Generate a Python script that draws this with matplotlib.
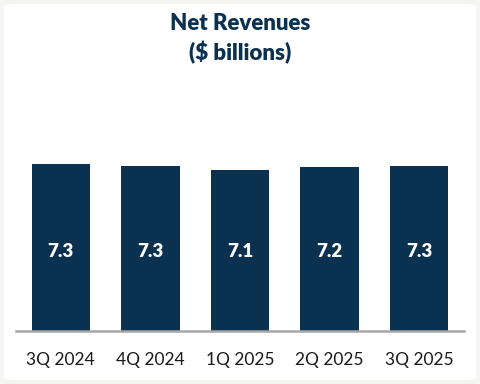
import matplotlib
matplotlib.use("Agg")
import matplotlib.pyplot as plt
from matplotlib.patches import FancyBboxPatch

quarters = ["3Q 2024", "4Q 2024", "1Q 2025", "2Q 2025", "3Q 2025"]
revenues = [7.35, 7.26, 7.08, 7.24, 7.26]
labels = ["7.3", "7.3", "7.1", "7.2", "7.3"]

navy = "#0b3150"

plt.rcParams["font.family"] = ["Lato", "DejaVu Sans"]

fig = plt.figure(figsize=(4.8, 3.84), dpi=100)
fig.patch.set_facecolor("#f4f4f2")

# white card with soft border
card = FancyBboxPatch((4 / 480, 4 / 384), 472 / 480, 376 / 384,
                      boxstyle="round,pad=0,rounding_size=0.01",
                      transform=fig.transFigure, facecolor="white",
                      edgecolor="none", zorder=-10)
fig.add_artist(card)

ax = fig.add_axes([16 / 480, 53 / 384, 448 / 480, 231 / 384])
ax.set_facecolor("none")

x = range(len(quarters))
bars = ax.bar(x, revenues, width=0.65, color=navy, zorder=2)
for i, b in enumerate(bars):
    ax.text(b.get_x() + b.get_width() / 2, 3.5, labels[i], color="white",
            ha="center", va="center", fontsize=13.5, fontweight="heavy", zorder=3)

ax.set_xlim(-0.5, len(quarters) - 0.5)
ax.set_ylim(0, 10.17)
ax.set_xticks(list(x))
ax.set_xticklabels(quarters, fontsize=12.5, color="#1a1a1a")
ax.tick_params(axis="x", length=0, pad=15)
ax.set_yticks([])
for s in ["top", "right", "left"]:
    ax.spines[s].set_visible(False)
ax.spines["bottom"].set_color("#a6a6a6")
ax.spines["bottom"].set_linewidth(1.8)

fig.text(0.5, 1 - 24 / 384, "Net Revenues", ha="center", va="center",
         fontsize=16, fontweight="heavy", color=navy)
fig.text(0.5, 1 - 53 / 384, "($ billions)", ha="center", va="center",
         fontsize=16, fontweight="heavy", color=navy)

fig.savefig("out.png", dpi=100, facecolor=fig.get_facecolor())
